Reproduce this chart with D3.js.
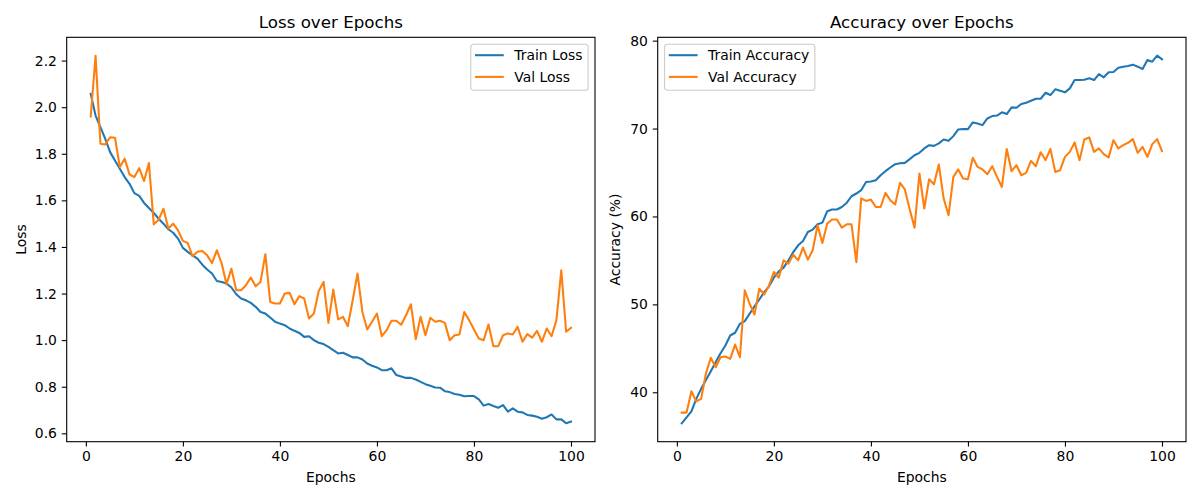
<!DOCTYPE html>
<html>
<head>
<meta charset="utf-8">
<script src="https://cdn.jsdelivr.net/npm/d3@7"></script>
<style>
  body { margin: 0; background: #fff; }
  svg text { font-family: "DejaVu Sans", sans-serif; fill: #000; }
  .tick text { font-size: 13.9px; }
  .domain { display: none; }
  .tick line { stroke: #000; stroke-width: 1.1px; }
</style>
</head>
<body>
<div id="chart"></div>
<script>
const width = 1200, height = 500;

// data
const epochs = d3.range(1, 101);

const trainLoss = [2.057, 1.964, 1.914, 1.864, 1.807, 1.771, 1.736, 1.700, 1.671, 1.631,
  1.619, 1.589, 1.567, 1.546, 1.521, 1.500, 1.476, 1.461, 1.436, 1.396,
  1.379, 1.364, 1.350, 1.324, 1.303, 1.286, 1.254, 1.250, 1.243, 1.226,
  1.197, 1.179, 1.171, 1.160, 1.143, 1.121, 1.114, 1.097, 1.079, 1.071,
  1.064, 1.050, 1.040, 1.031, 1.014, 1.017, 1.000, 0.989, 0.983, 0.971,
  0.957, 0.943, 0.946, 0.936, 0.926, 0.926, 0.917, 0.900, 0.890, 0.883,
  0.871, 0.871, 0.879, 0.850, 0.844, 0.838, 0.838, 0.831, 0.821, 0.811,
  0.804, 0.797, 0.796, 0.781, 0.777, 0.769, 0.766, 0.759, 0.760, 0.760,
  0.746, 0.719, 0.726, 0.717, 0.710, 0.721, 0.693, 0.707, 0.693, 0.690,
  0.679, 0.676, 0.671, 0.663, 0.669, 0.681, 0.660, 0.660, 0.643, 0.650];

const valLoss = [1.960, 2.221, 1.843, 1.840, 1.871, 1.869, 1.743, 1.779, 1.711, 1.700,
  1.738, 1.683, 1.760, 1.497, 1.517, 1.564, 1.479, 1.500, 1.471, 1.426,
  1.417, 1.360, 1.379, 1.383, 1.364, 1.331, 1.386, 1.329, 1.240, 1.307,
  1.214, 1.214, 1.236, 1.269, 1.231, 1.250, 1.369, 1.164, 1.157, 1.157,
  1.200, 1.203, 1.154, 1.189, 1.179, 1.093, 1.114, 1.211, 1.250, 1.074,
  1.217, 1.089, 1.100, 1.060, 1.171, 1.286, 1.121, 1.046, 1.079, 1.114,
  1.017, 1.043, 1.083, 1.083, 1.066, 1.107, 1.154, 1.004, 1.100, 1.021,
  1.096, 1.079, 1.083, 1.074, 1.000, 1.021, 1.024, 1.121, 1.086, 1.046,
  1.007, 1.000, 1.067, 0.974, 0.974, 1.021, 1.029, 1.024, 1.057, 0.993,
  1.026, 1.011, 1.040, 0.993, 1.050, 1.017, 1.086, 1.300, 1.036, 1.053];

const trainAcc = [36.47, 37.15, 37.84, 39.25, 40.39, 41.41, 42.39, 43.42, 44.44, 45.32,
  46.46, 46.77, 47.79, 48.09, 48.93, 49.77, 50.56, 51.40, 52.05, 53.04,
  53.76, 54.18, 55.00, 55.95, 56.72, 57.21, 58.23, 58.50, 59.11, 59.30,
  60.60, 60.79, 60.79, 61.08, 61.54, 62.30, 62.61, 62.99, 63.93, 63.98,
  64.12, 64.69, 65.15, 65.57, 65.95, 66.06, 66.10, 66.52, 66.97, 67.24,
  67.74, 68.11, 68.03, 68.31, 68.76, 68.60, 69.14, 69.90, 69.94, 69.94,
  70.70, 70.58, 70.39, 71.15, 71.42, 71.48, 71.85, 71.65, 72.41, 72.37,
  72.79, 72.94, 73.16, 73.39, 73.39, 74.07, 73.81, 74.46, 74.30, 74.12,
  74.57, 75.52, 75.52, 75.56, 75.72, 75.52, 76.20, 75.83, 76.40, 76.43,
  76.92, 77.04, 77.12, 77.27, 77.04, 76.77, 77.80, 77.61, 78.29, 77.88];

const valAcc = [37.69, 37.69, 40.11, 38.97, 39.25, 42.17, 43.92, 42.85, 43.99, 44.07,
  43.80, 45.43, 43.99, 51.59, 50.07, 48.85, 51.78, 51.13, 52.16, 53.68,
  53.04, 55.00, 54.63, 55.66, 55.00, 56.46, 55.09, 56.15, 59.00, 56.98,
  59.19, 59.65, 59.65, 58.73, 59.11, 59.11, 54.81, 62.04, 61.77, 61.92,
  61.08, 61.08, 62.68, 61.85, 61.36, 63.82, 63.07, 60.79, 58.73, 64.89,
  60.90, 64.24, 63.67, 65.91, 62.04, 60.14, 64.50, 65.35, 64.32, 64.24,
  66.67, 65.64, 65.35, 64.81, 65.72, 64.50, 63.36, 67.68, 65.15, 65.83,
  64.69, 64.96, 66.32, 65.72, 67.31, 66.40, 67.69, 65.07, 65.26, 66.78,
  67.35, 68.42, 66.40, 68.76, 68.99, 67.35, 67.74, 67.09, 66.71, 68.68,
  67.74, 68.11, 68.38, 68.80, 67.24, 67.92, 66.78, 68.23, 68.80, 67.43];

const xTicks = [0, 20, 40, 60, 80, 100];
const lossTicks = [0.6, 0.8, 1.0, 1.2, 1.4, 1.6, 1.8, 2.0, 2.2];
const accTicks = [40, 50, 60, 70, 80];

const blue = "#1f77b4", orange = "#ff7f0e";

const svg = d3.select("#chart").append("svg")
    .attr("width", width)
    .attr("height", height);

// matplotlib-like 5% margins around the data
function padded(lo, hi) {
    const m = (hi - lo) * 0.05;
    return [lo - m, hi + m];
}

function panel(opt) {
    const g = svg.append("g");
    const x = d3.scaleLinear()
        .domain(padded(1, 100))
        .range([opt.left, opt.right]);
    const all = opt.series.flatMap(s => s.values);
    const y = d3.scaleLinear()
        .domain(padded(d3.min(all), d3.max(all)))
        .range([opt.bottom, opt.top]);

    g.append("g")
        .attr("transform", `translate(0,${opt.bottom})`)
        .call(d3.axisBottom(x).tickValues(xTicks).tickFormat(d3.format("d"))
            .tickSizeOuter(0).tickSize(4.9).tickPadding(4.9));

    g.append("g")
        .attr("transform", `translate(${opt.left},0)`)
        .call(d3.axisLeft(y).tickValues(opt.yTicks).tickFormat(opt.yFormat)
            .tickSizeOuter(0).tickSize(4.9).tickPadding(4.9));

    const line = d3.line()
        .x((d, i) => x(epochs[i]))
        .y(d => y(d));

    opt.series.forEach(s => {
        g.append("path")
            .datum(s.values)
            .attr("fill", "none")
            .attr("stroke", s.color)
            .attr("stroke-width", 2.08)
            .attr("stroke-linejoin", "round")
            .attr("stroke-linecap", "square")
            .attr("d", line);
    });

    g.append("rect")
        .attr("x", opt.left)
        .attr("y", opt.top)
        .attr("width", opt.right - opt.left)
        .attr("height", opt.bottom - opt.top)
        .attr("fill", "none")
        .attr("stroke", "#000")
        .attr("stroke-width", 1.1);

    g.append("text")
        .attr("x", (opt.left + opt.right) / 2)
        .attr("y", opt.top - 9)
        .attr("text-anchor", "middle")
        .style("font-size", "16.7px")
        .text(opt.title);

    g.append("text")
        .attr("x", (opt.left + opt.right) / 2)
        .attr("y", 482)
        .attr("text-anchor", "middle")
        .style("font-size", "13.9px")
        .text("Epochs");

    g.append("text")
        .attr("transform", `translate(${opt.yLabelX},${(opt.top + opt.bottom) / 2}) rotate(-90)`)
        .attr("text-anchor", "middle")
        .style("font-size", "13.9px")
        .text(opt.yLabel);

    // legend
    const leg = g.append("g");
    const box = leg.append("rect")
        .attr("fill", "#fff")
        .attr("fill-opacity", 0.8)
        .attr("stroke", "#cccccc")
        .attr("stroke-width", 1.1)
        .attr("rx", 2.8);
    const texts = opt.series.map((s, i) => {
        leg.append("line")
            .attr("x1", 4.2).attr("x2", 33)
            .attr("y1", 11 + i * 21.7).attr("y2", 11 + i * 21.7)
            .attr("stroke", s.color)
            .attr("stroke-width", 2.08);
        return leg.append("text")
            .attr("x", 43.5)
            .attr("y", 11 + i * 21.7)
            .attr("dy", "0.36em")
            .style("font-size", "13.9px")
            .text(s.name);
    });
    const tw = d3.max(texts, t => t.node().getComputedTextLength());
    const bw = 43.5 + tw + 5.6, bh = 46;
    box.attr("width", bw).attr("height", bh);
    const lx = opt.legendLeft ? opt.left + 6.9 : opt.right - 6.9 - bw;
    leg.attr("transform", `translate(${lx},${opt.top + 6.9})`);
}

panel({
    left: 66.7, right: 595, top: 37.3, bottom: 441.7,
    title: "Loss over Epochs", yLabel: "Loss", yLabelX: 26,
    yTicks: lossTicks, yFormat: d3.format(".1f"),
    legendLeft: false,
    series: [
        {name: "Train Loss", values: trainLoss, color: blue},
        {name: "Val Loss", values: valLoss, color: orange}
    ]
});

panel({
    left: 657.7, right: 1186, top: 37.3, bottom: 441.7,
    title: "Accuracy over Epochs", yLabel: "Accuracy (%)", yLabelX: 620,
    yTicks: accTicks, yFormat: d3.format("d"),
    legendLeft: true,
    series: [
        {name: "Train Accuracy", values: trainAcc, color: blue},
        {name: "Val Accuracy", values: valAcc, color: orange}
    ]
});
</script>
</body>
</html>
